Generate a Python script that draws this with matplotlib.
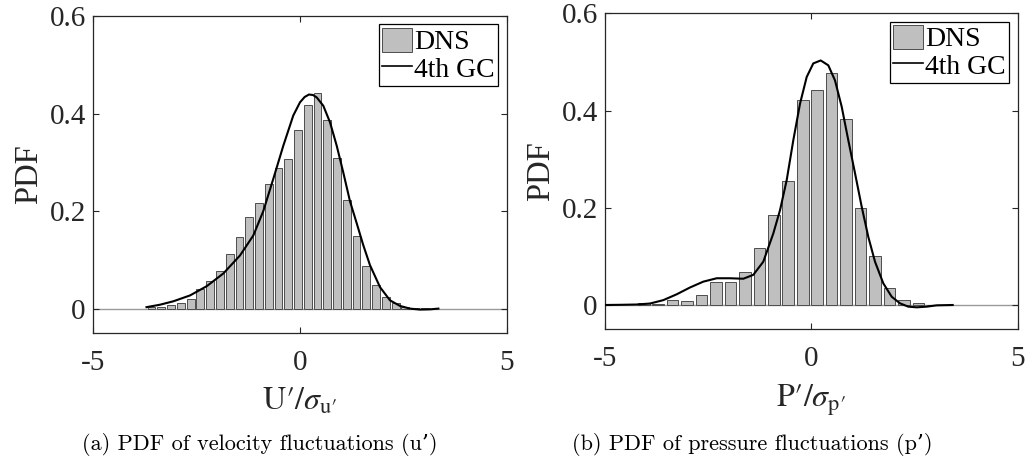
import numpy as np
import matplotlib
matplotlib.use("Agg")
import matplotlib.pyplot as plt
from matplotlib.patches import Patch
from matplotlib.lines import Line2D

plt.rcParams['font.family'] = ['Liberation Serif', 'DejaVu Serif']
plt.rcParams['mathtext.fontset'] = 'stix'

# ---------------- data (a) velocity ----------------
u_bin_start = -3.578
u_bin_step = 0.2358
u_pdf = [0.003, 0.004, 0.007, 0.011, 0.020, 0.040, 0.057, 0.077, 0.112, 0.146,
         0.187, 0.216, 0.256, 0.288, 0.307, 0.366, 0.418, 0.443, 0.386, 0.308,
         0.223, 0.148, 0.088, 0.049, 0.024, 0.011, 0.004, 0.002, 0.001]
u_gc_x = [-3.70, -3.374, -3.053, -2.65, -2.246, -1.845, -1.442, -1.12, -0.879,
          -0.638, -0.396, -0.155, 0.007, 0.12, 0.225, 0.32, 0.411, 0.570, 0.732,
          0.894, 1.053, 1.215, 1.377, 1.536, 1.698, 1.94, 2.181, 2.423, 2.664,
          2.906, 3.147, 3.35]
u_gc_y = [0.003, 0.008, 0.015, 0.027, 0.046, 0.072, 0.109, 0.150, 0.200,
          0.266, 0.334, 0.396, 0.423, 0.434, 0.439, 0.438, 0.433, 0.416, 0.382,
          0.334, 0.279, 0.220, 0.175, 0.130, 0.089, 0.044, 0.017, 0.0055, 0.0,
          -0.002, -0.0015, 0.0]

# ---------------- data (b) pressure ----------------
p_bin_start = -4.055
p_bin_step = 0.350
p_pdf = [0.005, 0.003, 0.010, 0.0075, 0.021, 0.047, 0.047, 0.068, 0.118, 0.186,
         0.256, 0.421, 0.442, 0.478, 0.382, 0.200, 0.100, 0.034, 0.0096, 0.0034,
         0.001]
p_gc_x = [-5.0, -4.6, -4.225, -3.903, -3.581, -3.257, -2.935, -2.613, -2.288,
          -1.966, -1.644, -1.402, -1.16, -0.918, -0.755, -0.593, -0.433, -0.271,
          -0.109, 0.051, 0.230, 0.414, 0.576, 0.738, 0.898, 1.061, 1.223, 1.383,
          1.545, 1.746, 1.949, 2.150, 2.351, 2.554, 2.797, 3.039, 3.426]
p_gc_y = [0.0, 0.0004, 0.001, 0.003, 0.010, 0.022, 0.036, 0.048, 0.055,
          0.055, 0.054, 0.062, 0.089, 0.147, 0.195, 0.257, 0.339, 0.414,
          0.469, 0.497, 0.503, 0.493, 0.462, 0.408, 0.339, 0.271, 0.202, 0.140,
          0.089, 0.0445, 0.017, 0.0034, -0.0034, -0.0048, -0.0034, -0.0007, 0.0]

x_ticks = [-5, 0, 5]
y_ticks = [0, 0.2, 0.4, 0.6]
y_tick_labels = ['0', '0.2', '0.4', '0.6']
legend_labels = ['DNS', '4th GC']

W, H = 1026, 468
fig = plt.figure(figsize=(W / 100, H / 100), dpi=100)

bar_face = '#bfbfbf'
bar_edge = '#4d4d4d'
spine_col = '#262626'


def panel(rect, start, step, pdf, gx, gy, xlabel, caption, cap_x):
    ax = fig.add_axes(rect)
    centers = start + step * np.arange(len(pdf))
    ax.axhline(0, color='#9a9a9a', lw=1.0, zorder=1)
    ax.bar(centers, pdf, width=0.8 * step, color=bar_face,
           edgecolor=bar_edge, linewidth=0.7, zorder=2)
    ax.plot(gx, gy, color='black', lw=1.5, zorder=3)
    ax.set_xlim(-5, 5)
    ax.set_ylim(-0.05, 0.6)
    ax.set_xticks(x_ticks)
    ax.set_xticklabels([str(t) for t in x_ticks])
    ax.set_yticks(y_ticks)
    ax.set_yticklabels(y_tick_labels)
    ax.tick_params(direction='in', length=4, width=0.8, colors=spine_col,
                   top=True, right=True, labelsize=21)
    ax.tick_params(axis='x', pad=12)
    ax.tick_params(axis='y', pad=5)
    for t in ax.get_xticklabels() + ax.get_yticklabels():
        t.set_color('#262626')
    for s in ax.spines.values():
        s.set_color(spine_col)
        s.set_linewidth(0.9)
    ax.set_ylabel('PDF', fontsize=23.5, color='#262626', labelpad=4)
    ax.set_xlabel(xlabel, fontsize=23, color='#262626', labelpad=8)
    handles = [Patch(facecolor=bar_face, edgecolor=bar_edge, linewidth=0.7),
               Line2D([], [], color='black', lw=1.2)]
    leg = ax.legend(handles, legend_labels, loc='upper right', fontsize=20,
                    frameon=True, fancybox=False, edgecolor='black',
                    framealpha=1, borderaxespad=0.3, handlelength=1.05,
                    handletextpad=0.1, borderpad=0.12, labelspacing=0.0,
                    handleheight=0.95)
    leg.get_frame().set_linewidth(0.9)
    fig.text(cap_x / W, 1 - 445 / H, caption, ha='center', va='center',
             fontsize=16, family=['cmr10', 'DejaVu Serif'])
    return ax


panel([92.7 / W, 1 - 333 / H, 414 / W, 317 / H], u_bin_start, u_bin_step,
      u_pdf, u_gc_x, u_gc_y, "$\\mathrm{U\u2032}/\\sigma_{\\mathrm{u\u2032}}$",
      "(a) PDF of velocity fluctuations (u\u2019)", 260)
panel([604.7 / W, 1 - 329.3 / H, 413 / W, 316 / H], p_bin_start, p_bin_step,
      p_pdf, p_gc_x, p_gc_y, "$\\mathrm{P\u2032}/\\sigma_{\\mathrm{p\u2032}}$",
      "(b) PDF of pressure fluctuations (p\u2019)", 752)

fig.savefig('out.png', dpi=100)
